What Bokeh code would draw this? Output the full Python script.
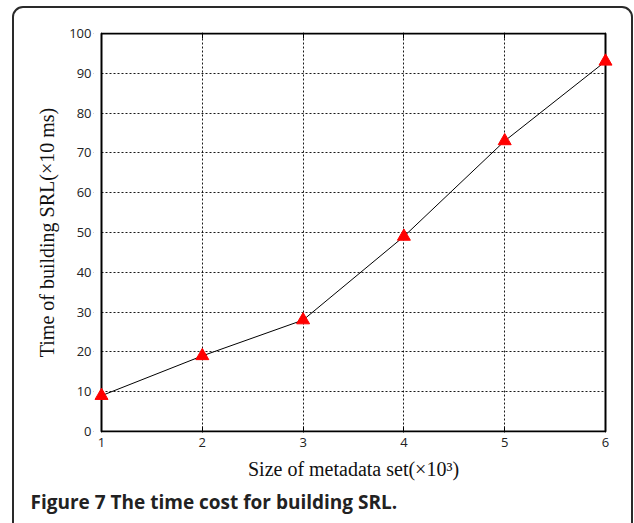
from bokeh.plotting import figure
from bokeh.models import (LinearAxis, FixedTicker, BoxAnnotation, Range1d,
                          CustomJSTickFormatter, Title, InlineStyleSheet)
from bokeh.embed import file_html
from bokeh.resources import INLINE

sizes = [1, 2, 3, 4, 5, 6]
times = [9, 19, 28, 49, 73, 93]
x_ticks = [1, 2, 3, 4, 5, 6]
y_ticks = [0, 10, 20, 30, 40, 50, 60, 70, 80, 90, 100]
x_lo, x_hi = 1, 6
y_lo, y_hi = 0, 100

W, H = 634, 523
# plot box (pixels) and padding of frame around it so edge markers are not cut
BL, BR, BT, BB = 101, 605, 33, 431
PX, PY = 8, 1
ux = PX * (x_hi - x_lo) / (BR - BL)
uy = PY * (y_hi - y_lo) / (BB - BT)

p = figure(width=W, height=H, output_backend="svg", toolbar_location=None,
           x_range=Range1d(x_lo - ux, x_hi + ux), y_range=Range1d(y_lo - uy, y_hi + uy),
           min_border_left=BL - PX, min_border_right=W - BR - PX,
           min_border_top=BT - PY, min_border_bottom=H - BB - PY)
p.background_fill_color = "white"
p.border_fill_color = "white"
p.outline_line_color = None

tick_font = "Open Sans"
for ax in (p.xaxis[0], p.yaxis[0]):
    ax.axis_line_color = None
    ax.major_tick_out = 0
    ax.minor_tick_line_color = None
    ax.major_tick_line_color = "black"
    ax.major_label_text_font = tick_font
    ax.major_label_text_font_size = "13px"
    ax.major_label_text_color = "#222222"
    ax.axis_label_text_font = "Liberation Serif"
    ax.axis_label_text_font_size = "20px"
    ax.axis_label_text_font_style = "normal"
    ax.axis_label_text_color = "#111111"

p.xaxis[0].major_tick_in = 5 + PY
p.yaxis[0].major_tick_in = 0
p.xaxis[0].ticker = FixedTicker(ticks=x_ticks)
p.yaxis[0].ticker = FixedTicker(ticks=y_ticks)
p.xaxis[0].axis_label = "Size of metadata set(×10³)"
p.yaxis[0].axis_label = "Time of building SRL(×10 ms)"
p.xaxis[0].major_label_standoff = 5
p.yaxis[0].major_label_standoff = 2
p.xaxis[0].axis_label_standoff = 8
p.yaxis[0].axis_label_standoff = 8

blank = CustomJSTickFormatter(code="return ''")
tax = LinearAxis(ticker=FixedTicker(ticks=x_ticks), formatter=blank,
                 axis_line_color=None, major_tick_in=5 + PY, major_tick_out=0,
                 minor_tick_line_color=None, major_label_standoff=0)
p.add_layout(tax, "above")

p.xgrid.ticker = FixedTicker(ticks=x_ticks)
p.ygrid.ticker = FixedTicker(ticks=y_ticks)
for g in (p.xgrid[0], p.ygrid[0]):
    g.grid_line_color = "black"
    g.grid_line_dash = "2 2"
    g.grid_line_width = 1
    g.grid_line_alpha = 0.9

# white strips hiding grid outside the plot box
for kw in (dict(right=x_lo), dict(left=x_hi), dict(top=y_lo), dict(bottom=y_hi)):
    p.add_layout(BoxAnnotation(fill_color="white", fill_alpha=1, line_color=None, **kw))
# plot box border
p.add_layout(BoxAnnotation(left=x_lo, right=x_hi, bottom=y_lo, top=y_hi,
                           fill_color=None, fill_alpha=0, line_color="black",
                           line_width=2, line_alpha=1))

p.line(sizes, times, line_color="black", line_width=1)
p.scatter(sizes, times, marker="triangle", size=13, fill_color="red",
          line_color="red", level="overlay")

cap = Title(text="Figure 7 The time cost for building SRL.", align="left",
            offset=30 - (BL - PX), text_font="Open Sans", text_font_style="bold",
            text_font_size="19px", text_color="#222222", standoff=9)
p.add_layout(cap, "below")

p.stylesheets = [InlineStyleSheet(css="""
:host { position: relative; overflow: hidden; }
:host::after { content: ''; position: absolute; left: 12px; top: 6px;
  width: 621px; height: 560px; box-sizing: border-box;
  border: 2px solid #2a2a2a; border-radius: 11px; pointer-events: none; }
""")]

open("out.html", "w").write(file_html(p, INLINE))
